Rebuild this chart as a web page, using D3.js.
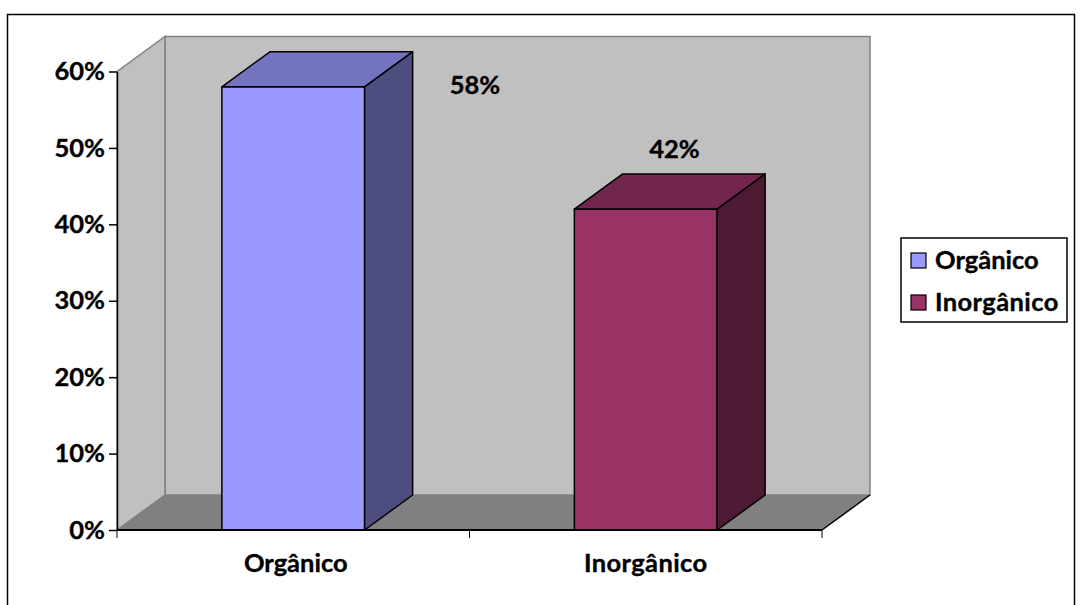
<!DOCTYPE html>
<html>
<head>
<meta charset="utf-8">
<script src="https://cdn.jsdelivr.net/npm/d3@7/dist/d3.min.js"></script>
<style>
html,body{margin:0;padding:0;background:#fff}
svg{display:block}
text{font-family:Lato,"Open Sans",sans-serif;font-weight:700;fill:#000;stroke:#000;stroke-width:.35px}
</style>
</head>
<body>
<svg id="chart" width="1080" height="605"></svg>
<script>
const categories = ["Orgânico", "Inorgânico"];
const values = [58, 42];
const valueLabels = ["58%", "42%"];
const yTicks = [0, 10, 20, 30, 40, 50, 60];
const barFront = ["#9999ff", "#993366"];
const barTop = ["#7373bf", "#73264d"];
const barSide = ["#4d4d80", "#4d1a33"];

const svg = d3.select("#chart");
const fontSize = 25.5;
const depthX = 48, depthY = 35;
const x = d3.scaleBand().domain(categories).range([117, 822]).paddingInner(0.595).paddingOuter(0.2975);
const y = d3.scaleLinear().domain([0, 60]).range([530, 71.5]);
const xEdges = [117, 469.5, 822];
const poly = pts => pts.map(p => p.join(",")).join(" ");

// Outer chart frame
svg.append("rect").attr("x", 7.5).attr("y", 14.5).attr("width", 1067).attr("height", 620)
  .attr("fill", "#fff").attr("stroke", "#000").attr("stroke-width", 1.5);

// Back wall, side wall and floor of the 3D box
const [x0, x1] = x.range(), y0 = y(0), yT = y(60);
svg.append("polygon").attr("points", poly([[x0 + depthX, yT - depthY], [x1 + depthX, yT - depthY], [x1 + depthX, y0 - depthY], [x0 + depthX, y0 - depthY]]))
  .attr("fill", "#c0c0c0").attr("stroke", "#808080").attr("stroke-width", 1.5);
svg.append("polygon").attr("points", poly([[x0, yT], [x0 + depthX, yT - depthY], [x0 + depthX, y0 - depthY], [x0, y0]]))
  .attr("fill", "#c0c0c0").attr("stroke", "#808080").attr("stroke-width", 1.5);
svg.append("polygon").attr("points", poly([[x0, y0], [x0 + depthX, y0 - depthY], [x1 + depthX, y0 - depthY], [x1, y0]]))
  .attr("fill", "#808080");
svg.append("line").attr("x1", x1).attr("y1", y0).attr("x2", x1 + depthX).attr("y2", y0 - depthY)
  .attr("stroke", "#000").attr("stroke-width", 1.5);

// Bars: front, top and right faces
const bars = svg.append("g").selectAll("g").data(categories).join("g")
  .attr("stroke", "#000").attr("stroke-width", 1.5).attr("stroke-linejoin", "round");
const w = x.bandwidth();
bars.append("polygon").attr("fill", (d, i) => barFront[i])
  .attr("points", (d, i) => poly([[x(d), y(values[i])], [x(d) + w, y(values[i])], [x(d) + w, y0], [x(d), y0]]));
bars.append("polygon").attr("fill", (d, i) => barTop[i])
  .attr("points", (d, i) => poly([[x(d), y(values[i])], [x(d) + depthX, y(values[i]) - depthY], [x(d) + w + depthX, y(values[i]) - depthY], [x(d) + w, y(values[i])]]));
bars.append("polygon").attr("fill", (d, i) => barSide[i])
  .attr("points", (d, i) => poly([[x(d) + w, y(values[i])], [x(d) + w + depthX, y(values[i]) - depthY], [x(d) + w + depthX, y0 - depthY], [x(d) + w, y0]]));

// Axes
const yAxis = svg.append("g").attr("transform", `translate(${x0},0)`)
  .call(d3.axisLeft(y).tickValues(yTicks).tickFormat(d => d + "%").tickSize(8).tickSizeOuter(0).tickPadding(4));
yAxis.selectAll("path").attr("stroke", "#000").attr("stroke-width", 1.5);
yAxis.selectAll("line").attr("stroke", "#000").attr("stroke-width", 1.5);
yAxis.selectAll("text").attr("font-size", fontSize).style("font-family", "Lato");

const xBase = svg.append("g");
xBase.append("line").attr("x1", x0).attr("x2", x1).attr("y1", y0).attr("y2", y0).attr("stroke", "#000").attr("stroke-width", 2);
xBase.selectAll(".edge").data(xEdges).join("line").attr("class", "edge")
  .attr("x1", d => d).attr("x2", d => d).attr("y1", y0).attr("y2", y0 + 8).attr("stroke", "#000").attr("stroke-width", 1);
xBase.selectAll("text").data(categories).join("text")
  .attr("x", (d, i) => x(d) + w / 2 + (i ? 0 : 2.5)).attr("y", 571.5).attr("text-anchor", "middle")
  .attr("font-size", fontSize).attr("letter-spacing", (d, i) => i ? 0.4 : 0).text(d => d);

// Value labels
const labelPos = [[475, 94], [674.5, 158]];
svg.selectAll(".value").data(valueLabels).join("text").attr("class", "value")
  .attr("x", (d, i) => labelPos[i][0]).attr("y", (d, i) => labelPos[i][1])
  .attr("text-anchor", "middle").attr("font-size", fontSize).text(d => d);

// Legend
svg.append("rect").attr("x", 901).attr("y", 238).attr("width", 166).attr("height", 84)
  .attr("fill", "#fff").attr("stroke", "#000").attr("stroke-width", 1.5);
const legend = svg.selectAll(".legend").data(categories).join("g").attr("class", "legend")
  .attr("transform", (d, i) => `translate(911,${253 + i * 42})`);
legend.append("rect").attr("width", 15).attr("height", 15)
  .attr("fill", (d, i) => barFront[i]).attr("stroke", "#000").attr("stroke-width", 1.2);
legend.append("text").attr("x", 24).attr("y", 16).attr("font-size", fontSize)
  .attr("letter-spacing", (d, i) => i ? 0.4 : 0).text(d => d);
</script>
</body>
</html>
